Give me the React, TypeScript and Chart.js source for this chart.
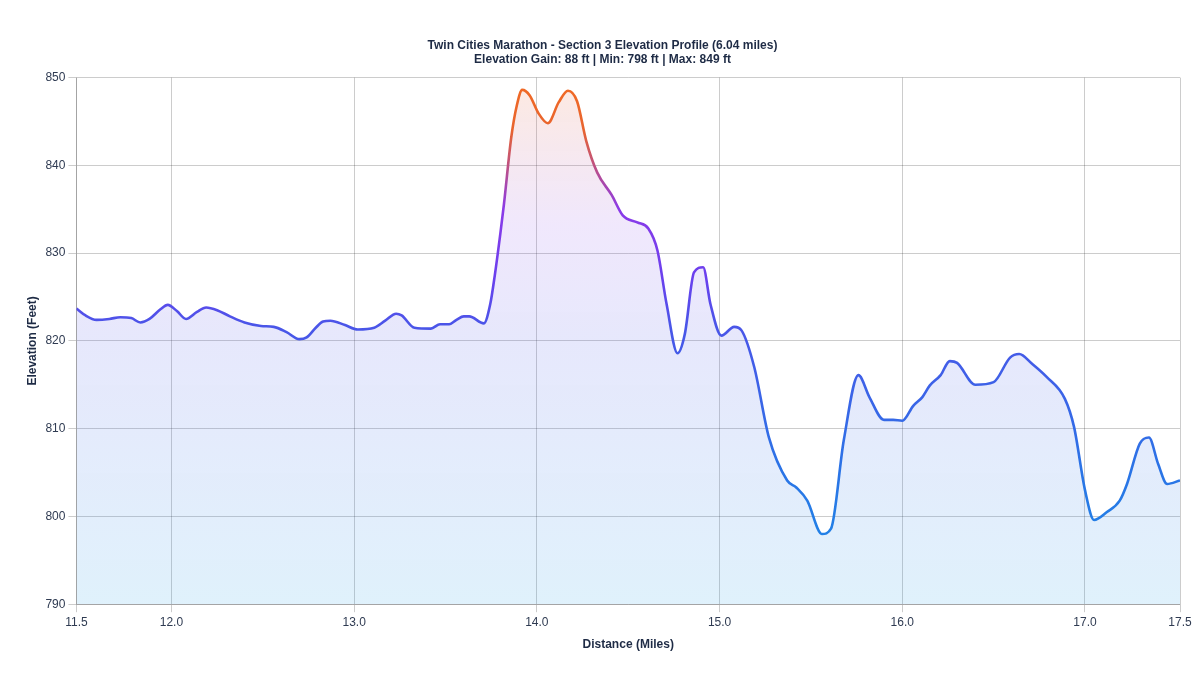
import React, { useEffect, useRef } from "react";
import { Chart, registerables } from "chart.js";

Chart.register(...registerables);

// Course distance (miles) and elevation (feet) along section 3
const distances = [
  11.48, 11.53, 11.59, 11.66, 11.72, 11.78, 11.83, 11.88, 11.94, 11.98,
  12.03, 12.08, 12.14, 12.19, 12.25, 12.32, 12.4, 12.49, 12.56, 12.63,
  12.7, 12.74, 12.79, 12.83, 12.87, 12.95, 13.02, 13.11, 13.17, 13.23,
  13.26, 13.33, 13.42, 13.47, 13.52, 13.56, 13.6, 13.63, 13.71, 13.745,
  13.77, 13.8, 13.82, 13.86, 13.89, 13.92, 13.96, 14.01, 14.06, 14.12,
  14.17, 14.22, 14.27, 14.33, 14.41, 14.47, 14.55, 14.61, 14.66, 14.71,
  14.77, 14.81, 14.86, 14.91, 14.95, 15.01, 15.08, 15.12, 15.19, 15.27,
  15.37, 15.42, 15.48, 15.56, 15.61, 15.68, 15.76, 15.82, 15.9, 15.95,
  16.0, 16.06, 16.11, 16.15, 16.21, 16.26, 16.3, 16.4, 16.5, 16.59,
  16.64, 16.71, 16.79, 16.89, 16.94, 17.0, 17.05, 17.12, 17.19, 17.23,
  17.3, 17.35, 17.4, 17.45, 17.52,
];

const elevations = [
  823.7, 822.9, 822.4, 822.5, 822.7, 822.6, 822.1, 822.5, 823.6, 824.1,
  823.4, 822.5, 823.3, 823.8, 823.5, 822.8, 822.1, 821.7, 821.6, 821.0,
  820.2, 820.4, 821.5, 822.2, 822.3, 821.8, 821.3, 821.5, 822.3, 823.1,
  822.9, 821.5, 821.4, 821.9, 821.9, 822.4, 822.8, 822.8, 822.0, 824.2,
  827.5, 832.2, 835.6, 843.2, 846.8, 848.6, 848.0, 845.9, 844.8, 847.2,
  848.5, 847.3, 842.8, 839.2, 836.6, 834.3, 833.5, 832.8, 830.3, 824.2,
  818.6, 820.8, 827.8, 828.4, 824.2, 820.6, 821.6, 821.2, 817.0, 809.0,
  804.1, 803.3, 801.8, 798.0, 798.6, 808.7, 816.1, 813.6, 811.0, 811.0,
  810.9, 812.6, 813.6, 814.9, 816.1, 817.7, 817.5, 815.0, 815.3, 818.1,
  818.5, 817.4, 815.9, 813.4, 810.2, 803.0, 799.6, 800.5, 801.8, 803.7,
  808.3, 809.0, 806.0, 803.7, 804.1,
];

const xTicks = [11.48, 12, 13, 14, 15, 16, 17, 17.52];
const yTicks = [790, 800, 810, 820, 830, 840, 850];

const titleLines = [
  "Twin Cities Marathon - Section 3 Elevation Profile (6.04 miles)",
  "Elevation Gain: 88 ft | Min: 798 ft | Max: 849 ft",
];

const FONT = "'Liberation Sans', Arial, Helvetica, sans-serif";
const TEXT_DARK = "#1e2b45";
const TEXT_TICK = "#2f3b52";
const GRID = "rgba(0,0,0,0.2)";

// Colour ramp from high ground (top) to low ground (bottom)
const lineStops: [number, string][] = [
  [0, "#f26a22"],
  [0.1, "#e8642f"],
  [0.25, "#8b3ae8"],
  [0.38, "#6a40ee"],
  [0.47, "#4a55e8"],
  [0.75, "#2a74e6"],
  [1, "#1a8ee6"],
];
const fillStops: [number, string][] = [
  [0, "rgba(246,120,60,0.16)"],
  [0.28, "rgba(150,90,235,0.14)"],
  [0.5, "rgba(90,100,235,0.15)"],
  [1, "rgba(60,170,235,0.16)"],
];

function verticalGradient(chart: any, stops: [number, string][]) {
  const area = chart.chartArea;
  if (!area) return stops[stops.length - 1][1];
  const g = chart.ctx.createLinearGradient(0, area.top, 0, area.bottom);
  stops.forEach(([p, c]) => g.addColorStop(p, c));
  return g;
}

export default function App() {
  const canvasRef = useRef<HTMLCanvasElement | null>(null);

  useEffect(() => {
    if (!canvasRef.current) return;
    const points = distances.map((d, i) => ({ x: d, y: elevations[i] }));

    const chart = new Chart(canvasRef.current, {
      type: "line",
      data: {
        datasets: [
          {
            label: "Elevation",
            data: points,
            borderColor: (ctx: any) => verticalGradient(ctx.chart, lineStops),
            backgroundColor: (ctx: any) => verticalGradient(ctx.chart, fillStops),
            borderWidth: 2.6,
            fill: "start",
            pointRadius: 0,
            pointHoverRadius: 0,
            cubicInterpolationMode: "monotone",
          },
        ],
      },
      options: {
        animation: false,
        responsive: true,
        maintainAspectRatio: false,
        layout: { padding: { top: 39, right: 20, bottom: 23, left: 25 } },
        plugins: {
          legend: { display: false },
          tooltip: { enabled: false },
          title: {
            display: true,
            text: titleLines,
            color: TEXT_DARK,
            font: { family: FONT, size: 12, weight: "bold", lineHeight: 1.15 },
            padding: { top: 0, bottom: 11 },
          },
        },
        scales: {
          x: {
            type: "linear",
            min: distances[0],
            max: distances[distances.length - 1],
            afterBuildTicks: (scale: any) => {
              scale.ticks = xTicks.map((v) => ({ value: v }));
            },
            ticks: {
              color: TEXT_TICK,
              font: { family: FONT, size: 12 },
              autoSkip: false,
              maxRotation: 0,
              callback: (v: any) => Number(v).toFixed(1),
            },
            grid: { color: GRID },
            border: { color: GRID },
            title: {
              display: true,
              text: "Distance (Miles)",
              color: TEXT_DARK,
              font: { family: FONT, size: 12, weight: "bold" },
              padding: { top: 5, bottom: 0 },
            },
          },
          y: {
            min: yTicks[0],
            max: yTicks[yTicks.length - 1],
            afterBuildTicks: (scale: any) => {
              scale.ticks = yTicks.map((v) => ({ value: v }));
            },
            ticks: {
              color: TEXT_TICK,
              font: { family: FONT, size: 12 },
            },
            grid: { color: GRID },
            border: { color: GRID },
            title: {
              display: true,
              text: "Elevation (Feet)",
              color: TEXT_DARK,
              font: { family: FONT, size: 12, weight: "bold" },
              padding: { top: 0, bottom: 3 },
            },
          },
        },
      },
    } as any);

    return () => chart.destroy();
  }, []);

  return (
    <div
      style={{
        position: "absolute",
        left: 0,
        top: 0,
        width: 1200,
        height: 675,
        background: "#ffffff",
      }}
    >
      <canvas ref={canvasRef} />
    </div>
  );
}
